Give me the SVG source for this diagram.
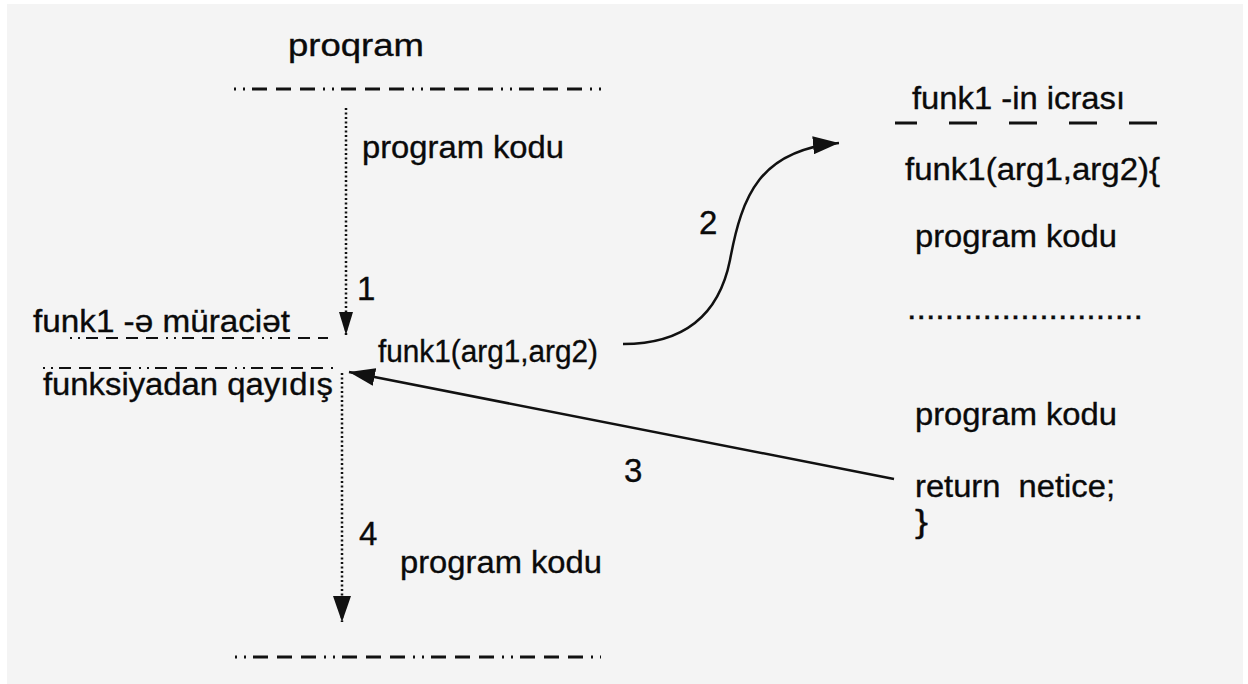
<svg xmlns="http://www.w3.org/2000/svg" width="1248" height="684" viewBox="0 0 1248 684">
  <defs>
    <style>
      .t { font-family: "Liberation Sans", Arial, sans-serif; font-size: 31px; fill: #0a0a0a; stroke: #0a0a0a; stroke-width: 0.35; }
      .num { font-family: "Liberation Sans", Arial, sans-serif; font-size: 33px; fill: #0a0a0a; stroke: #0a0a0a; stroke-width: 0.35; }
      .dashdot { fill: none; stroke: #111; stroke-width: 3; stroke-dasharray: 2 7 2 7 15 9 15 9 15 8; }
      .dashsm { fill: none; stroke: #111; stroke-width: 2; stroke-dasharray: 2 6 2 6 12 8 12 8 12 8 12 8; }
      .dotted { fill: none; stroke: #111; stroke-width: 2.5; stroke-dasharray: 2 2.5; }
      .solid { fill: none; stroke: #111; stroke-width: 2.5; }
    </style>
    <marker id="headS" viewBox="0 0 23 14" refX="23" refY="7" markerWidth="23" markerHeight="14" markerUnits="userSpaceOnUse" orient="auto">
      <path d="M0,0 L23,7 L0,14 z" fill="#111"/>
    </marker>
    <marker id="head" viewBox="0 0 26 18" refX="26" refY="9" markerWidth="26" markerHeight="18" markerUnits="userSpaceOnUse" orient="auto">
      <path d="M0,0 L26,9 L0,18 z" fill="#111"/>
    </marker>
  </defs>

  <!-- page background -->
  <rect x="0" y="0" width="1248" height="684" fill="#ffffff"/>
  <rect x="7" y="4" width="1236" height="680" fill="#f4f4f4"/>

  <!-- main program column -->
  <g id="program">
    <text class="t" x="288" y="56" font-size="34" textLength="136" lengthAdjust="spacingAndGlyphs">proqram</text>
    <path class="dashdot" d="M234,89 H601"/>
    <text class="t" x="362" y="158" textLength="202" lengthAdjust="spacingAndGlyphs">program kodu</text>
  </g>

  <g id="call">
    <text class="t" x="33" y="332" textLength="257" lengthAdjust="spacingAndGlyphs">funk1 -ə müraciət</text>
    <path class="dashsm" d="M70,338 H328"/>
    <text class="t" x="378" y="362" textLength="220" lengthAdjust="spacingAndGlyphs">funk1(arg1,arg2)</text>
  </g>

  <g id="return-point">
    <path class="dashsm" d="M43,368 H337"/>
    <text class="t" x="43" y="395" textLength="290" lengthAdjust="spacingAndGlyphs">funksiyadan qayıdış</text>
  </g>

  <g id="program-end">
    <text class="t" x="400" y="573" textLength="202" lengthAdjust="spacingAndGlyphs">program kodu</text>
    <path class="dashdot" d="M235,657 H601"/>
  </g>

  <!-- function body column -->
  <g id="function">
    <text class="t" x="912" y="109" textLength="213" lengthAdjust="spacingAndGlyphs">funk1 -in icrası</text>
    <path fill="none" stroke="#111" stroke-width="3" stroke-dasharray="28 32" stroke-dashoffset="6" d="M895,123 H1158"/>
    <text class="t" x="905" y="180" textLength="255" lengthAdjust="spacingAndGlyphs">funk1(arg1,arg2){</text>
    <text class="t" x="915" y="247" textLength="202" lengthAdjust="spacingAndGlyphs">program kodu</text>
    <text class="t" x="907" y="319" textLength="236" lengthAdjust="spacingAndGlyphs">.........................</text>
    <text class="t" x="915" y="425" textLength="202" lengthAdjust="spacingAndGlyphs">program kodu</text>
    <text class="t" x="915" y="497" textLength="200" lengthAdjust="spacingAndGlyphs" xml:space="preserve">return  netice;</text>
    <text class="t" x="915" y="532" textLength="13" lengthAdjust="spacingAndGlyphs">}</text>
  </g>

  <!-- flow connectors with step numbers -->
  <g id="connectors">
    <path class="dotted" d="M346,108 V335" marker-end="url(#headS)"/>
    <path class="dotted" d="M342,373 V622" marker-end="url(#head)"/>
    <path class="solid" d="M623,344 C690,344 720,310 730,260 C742,195 760,150 839,143" marker-end="url(#head)"/>
    <path class="solid" d="M894,479 L349,372" marker-end="url(#head)"/>
    <text class="num" x="357" y="300" font-size="28">1</text>
    <text class="num" x="699" y="234">2</text>
    <text class="num" x="624" y="482">3</text>
    <text class="num" x="359" y="545">4</text>
  </g>
</svg>
